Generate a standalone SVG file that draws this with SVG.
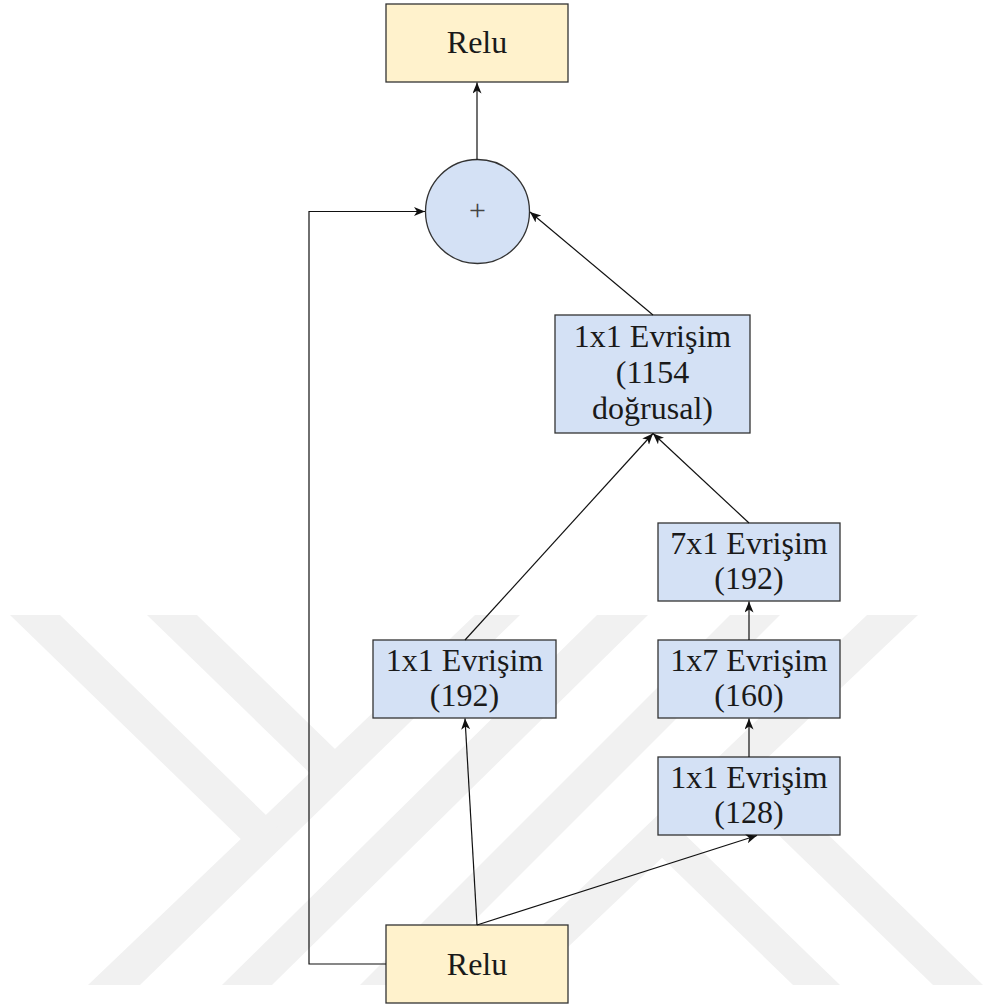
<svg xmlns="http://www.w3.org/2000/svg" width="983" height="1006" viewBox="0 0 983 1006">
<style>
.wm{fill:#f1f1f1;stroke:none}
.relu{fill:#fff2cc;stroke:#333;stroke-width:1.3}
.conv{fill:#d4e1f5;stroke:#333;stroke-width:1.3}
text{font-family:'Liberation Serif','Times New Roman',serif;font-size:32px;fill:#1a1a1a;text-anchor:middle}
.plus{font-size:30px;fill:#444}
.c{fill:none;stroke:#111;stroke-width:1.2}
</style>
<defs>
<marker id="arr" markerUnits="userSpaceOnUse" markerWidth="12" markerHeight="10" refX="11" refY="4.5" orient="auto">
<path d="M0,0 L11,4.5 L0,9 L3,4.5 Z" fill="#111"/>
</marker>
</defs>
<rect width="983" height="1006" fill="#fff"/>
<g id="watermark">
<polygon class="wm" points="475,615 520,615 140,985 88,985"/>
<polygon class="wm" points="597,615 648,615 272,985 222,985"/>
<polygon class="wm" points="730,615 780,615 410,985 360,985"/>
<polygon class="wm" points="867,615 918,615 528,985 480,985"/>
<polygon class="wm" points="10,615 60,615 277.4,826.1 252.3,850.3"/>
<polygon class="wm" points="147,615 197,615 346.3,760 321,784"/>
<polygon class="wm" points="649.9,846 673.5,823.4 840,985 793,985"/>
<polygon class="wm" points="720.5,778.7 745.8,754.7 983,985 933,985"/>
</g>
<g id="relu_top">
<rect class="relu" x="386" y="4" width="182" height="78"/>
<text x="477" y="53" font-family="Liberation Serif, serif">Relu</text>
</g>
<g id="add">
<circle cx="477.5" cy="211.5" r="52" fill="#d4e1f5" stroke="#333" stroke-width="1.3"/>
<text class="plus" x="477.5" y="219.5" font-family="Liberation Serif, serif">+</text>
</g>
<g id="conv_1154" font-family="Liberation Serif, serif">
<rect class="conv" x="555" y="315" width="195" height="118"/>
<text x="652.5" y="347" font-family="Liberation Serif, serif">1x1 Evrişim</text>
<text x="652.5" y="383" font-family="Liberation Serif, serif">(1154</text>
<text x="652.5" y="419" font-family="Liberation Serif, serif">doğrusal)</text>
</g>
<g id="conv_7x1">
<rect class="conv" x="658" y="523" width="182" height="78"/>
<text x="749" y="554" font-family="Liberation Serif, serif">7x1 Evrişim</text>
<text x="749" y="589" font-family="Liberation Serif, serif">(192)</text>
</g>
<g id="conv_1x7">
<rect class="conv" x="658" y="640" width="182" height="78"/>
<text x="749" y="671" font-family="Liberation Serif, serif">1x7 Evrişim</text>
<text x="749" y="706" font-family="Liberation Serif, serif">(160)</text>
</g>
<g id="conv_128">
<rect class="conv" x="658" y="757" width="182" height="78"/>
<text x="749" y="788" font-family="Liberation Serif, serif">1x1 Evrişim</text>
<text x="749" y="823" font-family="Liberation Serif, serif">(128)</text>
</g>
<g id="conv_192">
<rect class="conv" x="373" y="640" width="183" height="78"/>
<text x="464.5" y="671" font-family="Liberation Serif, serif">1x1 Evrişim</text>
<text x="464.5" y="706" font-family="Liberation Serif, serif">(192)</text>
</g>
<g id="relu_bottom">
<rect class="relu" x="386" y="925" width="182" height="78"/>
<text x="477" y="975" font-family="Liberation Serif, serif">Relu</text>
</g>
<g id="connectors">
<line class="c" x1="477" y1="159.5" x2="477" y2="82.5" marker-end="url(#arr)"/>
<polyline class="c" points="386,964 309,964 309,211.5 425,211.5" marker-end="url(#arr)"/>
<line class="c" x1="653" y1="315" x2="530" y2="212" marker-end="url(#arr)"/>
<line class="c" x1="465" y1="640" x2="653" y2="433.5" marker-end="url(#arr)"/>
<line class="c" x1="749" y1="523" x2="653" y2="433.5" marker-end="url(#arr)"/>
<line class="c" x1="749" y1="640" x2="749" y2="601.5" marker-end="url(#arr)"/>
<line class="c" x1="749" y1="757" x2="749" y2="718.5" marker-end="url(#arr)"/>
<line class="c" x1="477" y1="925" x2="465" y2="718.5" marker-end="url(#arr)"/>
<line class="c" x1="477" y1="925" x2="757" y2="835.5" marker-end="url(#arr)"/>
</g>
</svg>
